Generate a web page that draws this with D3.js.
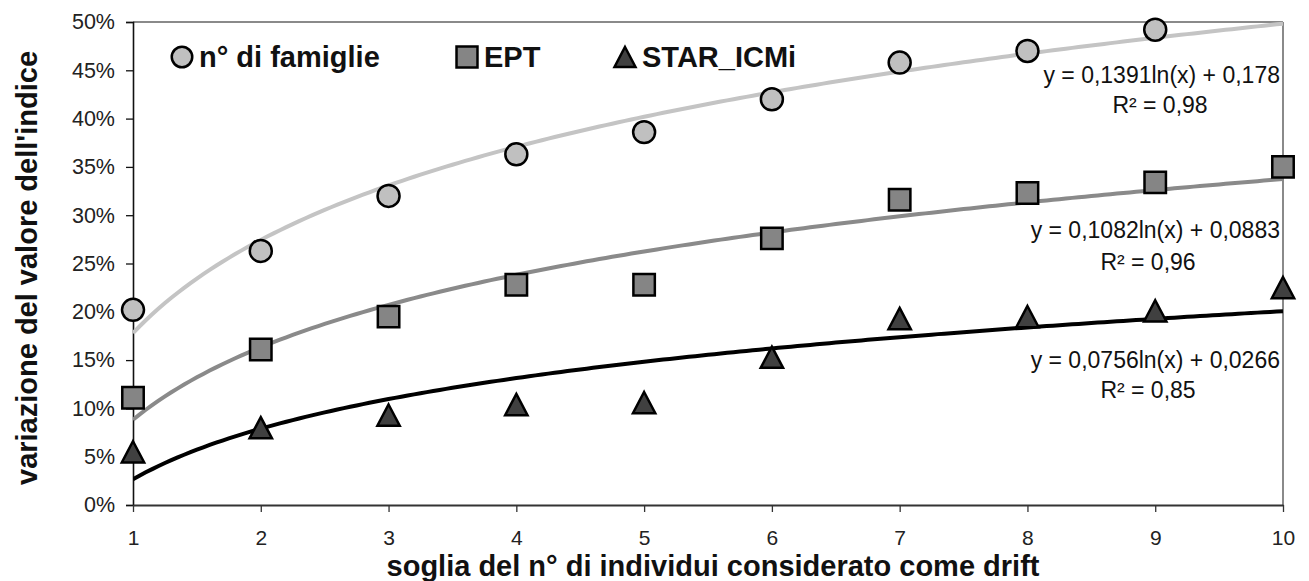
<!DOCTYPE html>
<html><head><meta charset="utf-8">
<script src="https://cdn.jsdelivr.net/npm/d3@7"></script>
<style>body{margin:0;background:#fff}svg{display:block;font-family:"Liberation Sans",Arial,sans-serif}</style>
</head><body><svg id="c" width="1309" height="581"></svg>
<script>
const thresholds = [1,2,3,4,5,6,7,8,9,10];
const famiglie = [0.202,0.263,0.320,0.363,0.386,0.420,0.458,0.470,0.492,null];
const ept = [0.111,0.161,0.195,0.228,0.228,0.276,0.316,0.323,0.334,0.350];
const starIcmi = [0.055,0.080,0.093,0.104,0.106,0.153,0.193,0.195,0.201,0.225];
const seriesNames = ["n° di famiglie","EPT","STAR_ICMi"];
const trendA = [0.1391,0.1082,0.0756];
const trendB = [0.178,0.0883,0.0266];
const eqLabels = ["y = 0,1391ln(x) + 0,178","y = 0,1082ln(x) + 0,0883","y = 0,0756ln(x) + 0,0266"];
const r2Labels = ["R² = 0,98","R² = 0,96","R² = 0,85"];
const yTicks = [0,0.05,0.10,0.15,0.20,0.25,0.30,0.35,0.40,0.45,0.50];

const svg = d3.select("#c");
const L=133,R=1283,T=22,B=505;
const x = d3.scaleLinear().domain([1,10]).range([L,R]);
const y = d3.scaleLinear().domain([0,0.5]).range([B,T]);

// plot border
svg.append("line").attr("x1",L).attr("x2",R).attr("y1",T).attr("y2",T).attr("stroke","#8a8a8a").attr("stroke-width",2);
svg.append("line").attr("x1",R).attr("x2",R).attr("y1",T).attr("y2",B).attr("stroke","#8a8a8a").attr("stroke-width",2);

const yAxis = svg.append("g").attr("transform",`translate(${L},0)`)
  .call(d3.axisLeft(y).tickValues(yTicks).tickFormat(d3.format(".0%")).tickSize(7).tickPadding(11));
yAxis.select(".domain").attr("stroke","#111").attr("stroke-width",1.6);
yAxis.selectAll(".tick line").attr("stroke","#111").attr("stroke-width",1.3);
yAxis.selectAll("text").attr("font-size",21.5).attr("fill","#222");

const xAxis = svg.append("g").attr("transform",`translate(0,${B})`)
  .call(d3.axisBottom(x).tickValues(thresholds).tickFormat(d3.format("d")).tickSizeInner(7).tickSizeOuter(0).tickPadding(18));
xAxis.select(".domain").attr("stroke","#333").attr("stroke-width",2);
xAxis.selectAll(".tick line").attr("stroke","#333").attr("stroke-width",1.3);
xAxis.selectAll("text").attr("font-size",21).attr("fill","#222");

// titles
svg.append("text").attr("x",713).attr("y",576).attr("text-anchor","middle")
  .attr("font-size",29).attr("font-weight","bold").attr("fill","#111").text("soglia del n° di individui considerato come drift");
svg.append("text").attr("transform",`translate(37,268) rotate(-90)`).attr("text-anchor","middle")
  .attr("font-size",29).attr("font-weight","bold").attr("fill","#111").text("variazione del valore dell'indice");

// trend lines
const lineColors = ["#c4c4c4","#8a8a8a","#000"];
svg.append("clipPath").attr("id","pc").append("rect").attr("x",L).attr("y",T-2).attr("width",R-L).attr("height",B-T+2);
const xs = d3.range(1,10.001,0.05);
trendA.forEach((a,i)=>{
  const line = d3.line().x(d=>x(d)).y(d=>y(a*Math.log(d)+trendB[i]));
  svg.append("path").datum(xs).attr("d",line).attr("fill","none")
    .attr("stroke",lineColors[i]).attr("stroke-width",4).attr("clip-path","url(#pc)");
});

// markers
const tri = {draw(ctx,size){const w=Math.sqrt(size);const h=w*0.95;ctx.moveTo(0,-h/2);ctx.lineTo(w/2,h/2);ctx.lineTo(-w/2,h/2);ctx.closePath();}};
const fills = ["#c0c0c0","#858585","#404040"];
const sym = [d3.symbolCircle,d3.symbolSquare,tri];
const sizes = [380,460,500];
[famiglie,ept,starIcmi].forEach((vals,i)=>{
  svg.append("g").selectAll("path").data(thresholds.map((t,j)=>[t,vals[j]]).filter(d=>d[1]!=null))
    .join("path")
    .attr("transform",d=>`translate(${x(d[0])},${y(d[1])})`)
    .attr("d",d3.symbol(sym[i],sizes[i]))
    .attr("fill",fills[i]).attr("stroke","#000").attr("stroke-width",2.5);
});

// equations
const eqY = [75,230,360];
const r2Y = [105,262,390];
const r2X = [1160,1148,1148];
eqLabels.forEach((t,i)=>{
  svg.append("text").attr("x",1280).attr("y",eqY[i]+8).attr("text-anchor","end").attr("font-size",23).attr("fill","#111").text(t);
  svg.append("text").attr("x",r2X[i]).attr("y",r2Y[i]+8).attr("text-anchor","middle").attr("font-size",23).attr("fill","#111").text(r2Labels[i]);
});

// legend
const legX = [182,467,625];
const legSizes = [330,440,440];
seriesNames.forEach((n,i)=>{
  svg.append("path").attr("transform",`translate(${legX[i]},57)`).attr("d",d3.symbol(sym[i],legSizes[i]))
    .attr("fill",fills[i]).attr("stroke","#000").attr("stroke-width",2.5);
  svg.append("text").attr("x",legX[i]+17).attr("y",67).attr("font-size",29).attr("font-weight","bold").attr("fill","#111").text(n);
});
</script></body></html>
